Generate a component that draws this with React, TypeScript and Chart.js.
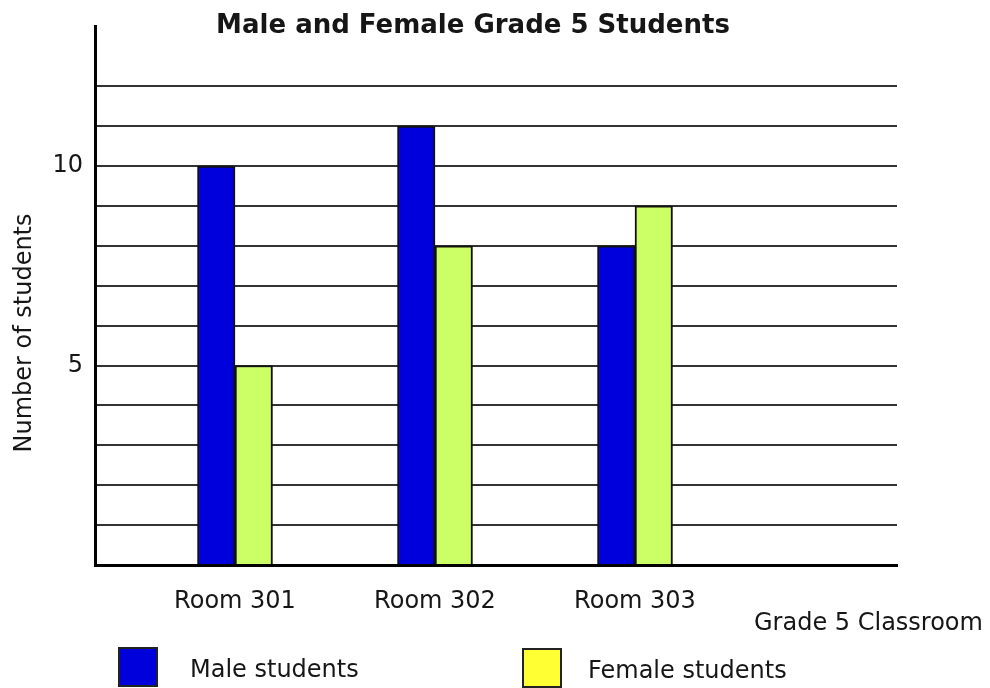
import React, { useEffect, useRef } from "react";
import { Chart, registerables } from "chart.js";

Chart.register(...registerables);

const rooms = ["Room 301", "Room 302", "Room 303"];
const maleStudents = [10, 11, 8];
const femaleStudents = [5, 8, 9];
const yTickLabels = [5, 10];
const chartTitle = "Male and Female Grade 5 Students";
const xAxisTitle = "Grade 5 Classroom";
const yAxisTitle = "Number of students";
const legendLabels = ["Male students", "Female students"];

const FONT = "'DejaVu Sans', 'Liberation Sans', sans-serif";
const BLUE = "#0000DD";
const GREEN = "#CCFF66";
const YELLOW = "#FFFF33";
const TEXT = "#161616";

const decorPlugin = {
  id: "decor",
  afterDraw(chart: any) {
    const ctx = chart.ctx as CanvasRenderingContext2D;
    ctx.save();
    ctx.fillStyle = TEXT;
    ctx.textBaseline = "alphabetic";
    // title
    ctx.font = `bold 26px ${FONT}`;
    ctx.textAlign = "center";
    ctx.fillText(chartTitle, 473, 33);
    // x axis title
    ctx.font = `24px ${FONT}`;
    ctx.textAlign = "left";
    ctx.fillText(xAxisTitle, 754, 630);
    // y axis title
    ctx.save();
    ctx.translate(31, 333);
    ctx.rotate(-Math.PI / 2);
    ctx.textAlign = "center";
    ctx.fillText(yAxisTitle, 0, 0);
    ctx.restore();
    // legend
    const items = [
      { color: BLUE, box: [119, 648], text: [190, 677] },
      { color: YELLOW, box: [523, 649], text: [588, 678] },
    ];
    items.forEach((it, i) => {
      ctx.fillStyle = it.color;
      ctx.fillRect(it.box[0], it.box[1], 38, 38);
      ctx.strokeStyle = "#222";
      ctx.lineWidth = 2;
      ctx.strokeRect(it.box[0], it.box[1], 38, 38);
      ctx.fillStyle = TEXT;
      ctx.textAlign = "left";
      ctx.fillText(legendLabels[i], it.text[0], it.text[1]);
    });
    ctx.restore();
  },
};

export default function App() {
  const ref = useRef<HTMLCanvasElement | null>(null);

  useEffect(() => {
    if (!ref.current) return;
    const chart = new Chart(ref.current, {
      type: "bar",
      data: {
        datasets: [
          {
            label: legendLabels[0],
            data: rooms.map((_, i) => ({ x: i, y: maleStudents[i] })),
            backgroundColor: BLUE,
            borderColor: "#111",
            borderWidth: 2,
            barThickness: 37.5,
          },
          {
            label: legendLabels[1],
            data: rooms.map((_, i) => ({ x: i, y: femaleStudents[i] })),
            backgroundColor: GREEN,
            borderColor: "#111",
            borderWidth: 2,
            barThickness: 37.5,
          },
        ],
      },
      options: {
        responsive: false,
        animation: false,
        layout: { padding: { top: 25, right: 93, left: 0, bottom: 0 } },
        plugins: {
          legend: { display: false },
          title: { display: false },
          tooltip: { enabled: false },
        },
        scales: {
          x: {
            type: "linear",
            min: -0.7,
            max: 3.31,
            offset: false,
            afterBuildTicks: (scale: any) => {
              scale.ticks = rooms.map((_, i) => ({ value: i }));
            },
            afterFit: (scale: any) => {
              scale.height = 123;
            },
            grid: { display: false, drawTicks: false, offset: false },
            border: { display: true, color: "#000", width: 3 },
            ticks: {
              padding: 22,
              color: TEXT,
              font: { family: FONT, size: 24 },
              maxRotation: 0,
              autoSkip: false,
              callback: (v: any) => rooms[v as number] ?? "",
            },
          },
          y: {
            min: 0,
            max: 13.5,
            afterFit: (scale: any) => {
              scale.width = 95;
            },
            grid: {
              drawTicks: false,
              lineWidth: 2,
              color: (ctx: any) =>
                ctx.tick && ctx.tick.value >= 1 && ctx.tick.value <= 12
                  ? "#333"
                  : "rgba(0,0,0,0)",
            },
            border: { display: true, color: "#000", width: 3 },
            ticks: {
              stepSize: 1,
              padding: 12,
              color: TEXT,
              font: { family: FONT, size: 24 },
              callback: (v: any) =>
                yTickLabels.includes(v as number) ? String(v) : "",
            },
          },
        },
      } as any,
      plugins: [decorPlugin],
    });
    return () => chart.destroy();
  }, []);

  return (
    <div style={{ position: "absolute", left: 0, top: 0, width: 990, height: 688, background: "#fff" }}>
      <canvas ref={ref} width={990} height={688} style={{ display: "block" }} />
    </div>
  );
}
